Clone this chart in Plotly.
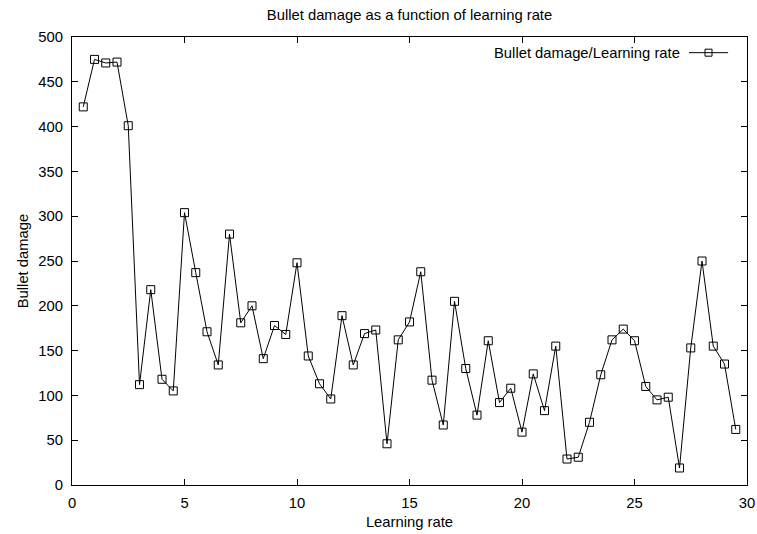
import plotly.graph_objects as go

# Learning rate sampled every 0.5 from 0.5 to 29.5
learning_rate = [0.5 * i for i in range(1, 60)]

bullet_damage = [
    422, 475, 471, 472, 401, 112, 218, 118, 105, 304,
    237, 171, 134, 280, 181, 200, 141, 178, 168, 248,
    144, 113, 96, 189, 134, 169, 173, 46, 162, 182,
    238, 117, 67, 205, 130, 78, 161, 92, 108, 59,
    124, 83, 155, 29, 31, 70, 123, 162, 174, 161,
    110, 95, 98, 19, 153, 250, 155, 135, 62,
]

x_ticks = [0, 5, 10, 15, 20, 25, 30]
y_ticks = [0, 50, 100, 150, 200, 250, 300, 350, 400, 450, 500]

FONT = "Liberation Sans, Arial, Helvetica, sans-serif"
FS = 14.8

fig = go.Figure()
fig.add_trace(go.Scatter(
    x=learning_rate,
    y=bullet_damage,
    mode="lines+markers",
    name="Bullet damage/Learning rate",
    line=dict(color="black", width=1),
    marker=dict(symbol="square-open", size=8, color="black", line=dict(width=1)),
    showlegend=False,
))

axis_common = dict(
    showline=True, linecolor="black", linewidth=1, mirror="ticks",
    ticks="inside", ticklen=6, tickcolor="black", tickwidth=1,
    showgrid=False, zeroline=False, automargin=False,
    tickfont=dict(family=FONT, size=FS, color="black"),
)

fig.update_xaxes(
    range=[0, 30], tickvals=x_ticks, ticklabelstandoff=4,
    title=dict(text="Learning rate", font=dict(family=FONT, size=FS, color="black"), standoff=6),
    **axis_common,
)
fig.update_yaxes(
    range=[0, 500], tickvals=y_ticks, ticklabelstandoff=5,
    title=dict(text="Bullet damage", font=dict(family=FONT, size=FS, color="black"), standoff=6),
    **axis_common,
)

# Key in the upper right: label, then a line sample with a square marker
key_y = 0.965
fig.add_annotation(
    xref="paper", yref="paper", x=0.903, y=key_y,
    xanchor="right", yanchor="middle", showarrow=False,
    text="Bullet damage/Learning rate",
    font=dict(family=FONT, size=FS, color="black"),
)
fig.add_shape(type="line", xref="paper", yref="paper",
              x0=0.914, x1=0.972, y0=key_y, y1=key_y,
              line=dict(color="black", width=1))
sq_w, sq_h = 3.5 / 675, 3.5 / 448
fig.add_shape(type="rect", xref="paper", yref="paper",
              x0=0.943 - sq_w, x1=0.943 + sq_w,
              y0=key_y - sq_h, y1=key_y + sq_h,
              line=dict(color="black", width=1), fillcolor="rgba(0,0,0,0)")

fig.update_layout(
    width=757, height=534,
    margin=dict(l=72, r=10, t=37, b=49),
    paper_bgcolor="white", plot_bgcolor="white",
    title=dict(
        text="Bullet damage as a function of learning rate",
        x=(72 + 675 / 2) / 757, xanchor="center",
        y=1 - 15 / 534, yanchor="middle",
        font=dict(family=FONT, size=FS, color="black"),
    ),
    font=dict(family=FONT, size=FS, color="black"),
)

fig.write_html("out.html")
